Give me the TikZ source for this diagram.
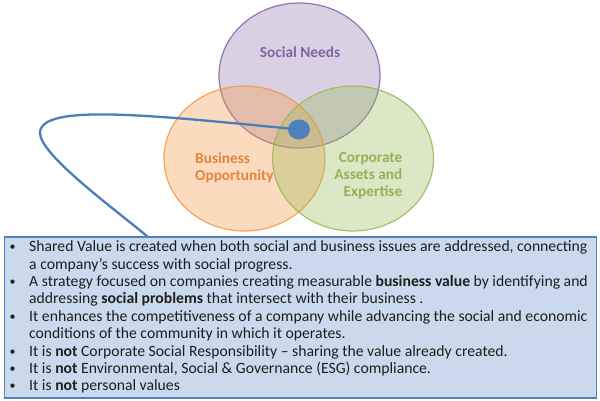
\documentclass[tikz,border=0pt]{standalone}
\usepackage{fontspec}
\setmainfont{Carlito}
\usetikzlibrary{shapes.geometric}
\definecolor{cpurple}{HTML}{8064A2}
\definecolor{corange}{HTML}{F79646}
\definecolor{cgreen}{HTML}{9BBB59}
\definecolor{cblue}{HTML}{4F81BD}
\definecolor{cline}{HTML}{4A7EBB}
\definecolor{cboxfill}{HTML}{CAD9EC}
\definecolor{cboxdraw}{HTML}{5580B8}
\definecolor{ctext}{HTML}{1E1E1E}
\tikzset{
  venn/.style={ellipse, minimum width=161pt, minimum height=145pt, inner sep=0pt, line width=1.2pt},
  lbl/.style={font=\fontsize{15.3}{17}\selectfont\bfseries, inner sep=0pt},
  txt/.style={anchor=base west, inner sep=0pt, text=ctext, font=\fontsize{15.7}{17.4}\selectfont},
  bul/.style={anchor=base, inner sep=0pt, text=ctext, font=\fontsize{12}{14}\selectfont},
  conn/.style={draw=cline, line width=2.3pt},
}
\begin{document}
\begin{tikzpicture}[x=1pt,y=-1pt]
\useasboundingbox (0,0) rectangle (600,400);
% Venn circles
\node[venn, fill=cpurple, fill opacity=0.3, draw=cpurple, draw opacity=0.85] (social) at (299.5,75.5) {};
\node[venn, fill=corange, fill opacity=0.35, draw=corange, draw opacity=0.85] (business) at (244.5,158.5) {};
\node[venn, fill=cgreen, fill opacity=0.35, draw=cgreen, draw opacity=0.9] (corporate) at (353,158.5) {};
% labels
\node[lbl, text=cpurple] (lsocial) at (300,52) {Social Needs};
\node[lbl, text=corange!90!black, align=left, anchor=west] (lbusiness) at (195,167.5) {Business\\Opportunity};
\node[lbl, text=cgreen!95!black, align=right, anchor=east] (lcorporate) at (402.5,176) {Corporate\\Assets and\\Expertise};
% dot and connector
\node[ellipse, fill=cblue, minimum width=22pt, minimum height=20pt, inner sep=0pt] (dot) at (299,129.5) {};
\coordinate (tip) at (148,237);
\draw[conn] (dot.center) .. controls (150,115) and (40,103) .. (40,133) .. controls (40,155) and (116,210) .. (tip);
% box
\node[draw=cboxdraw, fill=cboxfill, line width=1.6pt, minimum width=592pt, minimum height=161pt, anchor=north west, inner sep=0pt] (box) at (3.5,236) {};
% bullets
\foreach \i/\yy in {1/250.7, 2/285.5, 3/320.3, 4/355.1, 5/372.5, 6/389.9}
  \node[bul] (b\i) at (12.7,\yy) {•};
% lines
\node[txt] (t1) at (29,251.7) {Shared Value is created when both social and business issues are addressed, connecting};
\node[txt] (t2) at (29,269.1) {a company’s success with social progress.};
\node[txt] (t3) at (29,286.5) {A strategy focused on companies creating measurable \textbf{business value} by identifying and};
\node[txt] (t4) at (29,303.9) {addressing \textbf{social problems} that intersect with their business .};
\node[txt] (t5) at (29,321.3) {It enhances the competitiveness of a company while advancing the social and economic};
\node[txt] (t6) at (29,338.7) {conditions of the community in which it operates.};
\node[txt] (t7) at (29,356.1) {It is \textbf{not} Corporate Social Responsibility – sharing the value already created.};
\node[txt] (t8) at (29,373.5) {It is \textbf{not} Environmental, Social \& Governance (ESG) compliance.};
\node[txt] (t9) at (29,390.9) {It is \textbf{not} personal values};
\end{tikzpicture}
\end{document}
